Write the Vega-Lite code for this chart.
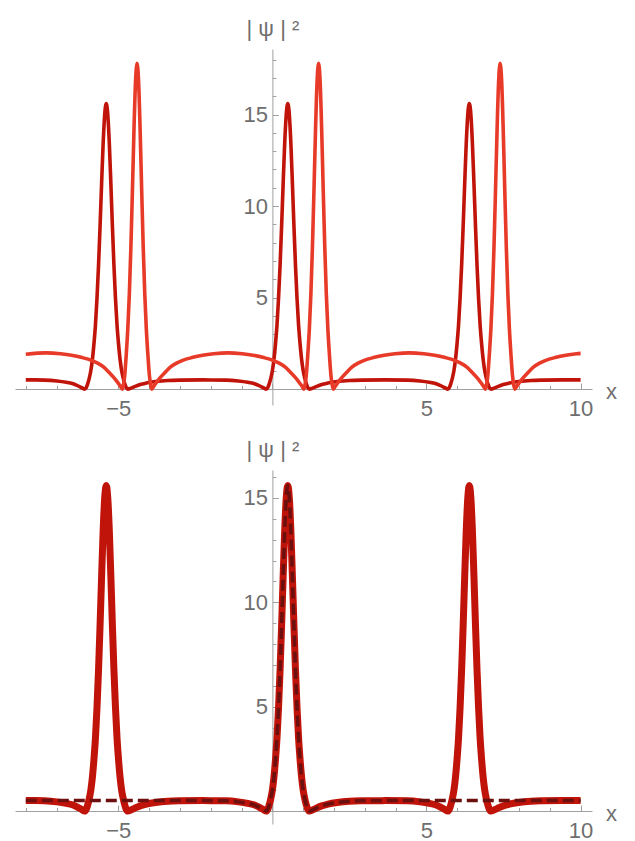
{
  "$schema": "https://vega.github.io/schema/vega-lite/v6.json",
  "background": "white",
  "padding": {"left": 11, "top": 17, "right": 5, "bottom": 5},
  "bounds": "flush",
  "spacing": 65,
  "config": {
    "view": {"stroke": null},
    "axis": {
      "grid": false,
      "domainColor": "#a0a0a0",
      "domainWidth": 1,
      "tickColor": "#a0a0a0",
      "tickWidth": 1,
      "labelColor": "#6e6e6e",
      "labelFont": "Liberation Sans",
      "labelFontSize": 22,
      "labelFlush": false,
      "labelOverlap": false,
      "labelBound": false,
      "titleColor": "#6e6e6e",
      "titleFont": "Liberation Sans",
      "titleFontWeight": "normal"
    }
  },
  "datasets": {
    "dark": [
      {"x": -8, "y": 0.5}, {"x": -7.7, "y": 0.5},
      {"x": -7.39, "y": 0.49}, {"x": -6.99, "y": 0.44}, {"x": -6.69, "y": 0.37}, {"x": -6.49, "y": 0.3}, {"x": -6.34, "y": 0.2}, {"x": -6.24, "y": 0.12}, {"x": -6.17, "y": 0.06}, {"x": -6.09, "y": 0}, {"x": -6.04, "y": 0.08}, {"x": -5.99, "y": 0.3}, {"x": -5.94, "y": 0.6}, {"x": -5.89, "y": 1.0}, {"x": -5.84, "y": 1.6}, {"x": -5.79, "y": 2.45}, {"x": -5.74, "y": 3.5}, {"x": -5.69, "y": 4.95}, {"x": -5.64, "y": 6.75}, {"x": -5.59, "y": 8.9}, {"x": -5.54, "y": 11.24}, {"x": -5.49, "y": 13.43}, {"x": -5.44, "y": 15.0}, {"x": -5.39, "y": 15.6}, {"x": -5.34, "y": 15.0}, {"x": -5.29, "y": 13.43}, {"x": -5.24, "y": 11.24}, {"x": -5.19, "y": 8.9}, {"x": -5.14, "y": 6.75}, {"x": -5.09, "y": 4.95}, {"x": -5.04, "y": 3.5}, {"x": -4.99, "y": 2.45}, {"x": -4.94, "y": 1.6}, {"x": -4.89, "y": 1.0}, {"x": -4.84, "y": 0.6}, {"x": -4.79, "y": 0.3}, {"x": -4.74, "y": 0.08}, {"x": -4.69, "y": 0}, {"x": -4.59, "y": 0.05}, {"x": -4.49, "y": 0.12}, {"x": -4.29, "y": 0.25}, {"x": -4.09, "y": 0.33}, {"x": -3.79, "y": 0.41}, {"x": -3.39, "y": 0.47}, {"x": -2.99, "y": 0.49},
      {"x": -2.25, "y": 0.5},
      {"x": -1.5, "y": 0.49}, {"x": -1.1, "y": 0.44}, {"x": -0.8, "y": 0.37}, {"x": -0.6, "y": 0.3}, {"x": -0.45, "y": 0.2}, {"x": -0.35, "y": 0.12}, {"x": -0.28, "y": 0.06}, {"x": -0.2, "y": 0}, {"x": -0.15, "y": 0.08}, {"x": -0.1, "y": 0.3}, {"x": -0.05, "y": 0.6}, {"x": 0, "y": 1.0}, {"x": 0.05, "y": 1.6}, {"x": 0.1, "y": 2.45}, {"x": 0.15, "y": 3.5}, {"x": 0.2, "y": 4.95}, {"x": 0.25, "y": 6.75}, {"x": 0.3, "y": 8.9}, {"x": 0.35, "y": 11.24}, {"x": 0.4, "y": 13.43}, {"x": 0.45, "y": 15.0}, {"x": 0.5, "y": 15.6}, {"x": 0.55, "y": 15.0}, {"x": 0.6, "y": 13.43}, {"x": 0.65, "y": 11.24}, {"x": 0.7, "y": 8.9}, {"x": 0.75, "y": 6.75}, {"x": 0.8, "y": 4.95}, {"x": 0.85, "y": 3.5}, {"x": 0.9, "y": 2.45}, {"x": 0.95, "y": 1.6}, {"x": 1.0, "y": 1.0}, {"x": 1.05, "y": 0.6}, {"x": 1.1, "y": 0.3}, {"x": 1.15, "y": 0.08}, {"x": 1.2, "y": 0}, {"x": 1.3, "y": 0.05}, {"x": 1.4, "y": 0.12}, {"x": 1.6, "y": 0.25}, {"x": 1.8, "y": 0.33}, {"x": 2.1, "y": 0.41}, {"x": 2.5, "y": 0.47}, {"x": 2.9, "y": 0.49},
      {"x": 3.65, "y": 0.5},
      {"x": 4.39, "y": 0.49}, {"x": 4.79, "y": 0.44}, {"x": 5.09, "y": 0.37}, {"x": 5.29, "y": 0.3}, {"x": 5.44, "y": 0.2}, {"x": 5.54, "y": 0.12}, {"x": 5.61, "y": 0.06}, {"x": 5.69, "y": 0}, {"x": 5.74, "y": 0.08}, {"x": 5.79, "y": 0.3}, {"x": 5.84, "y": 0.6}, {"x": 5.89, "y": 1.0}, {"x": 5.94, "y": 1.6}, {"x": 5.99, "y": 2.45}, {"x": 6.04, "y": 3.5}, {"x": 6.09, "y": 4.95}, {"x": 6.14, "y": 6.75}, {"x": 6.19, "y": 8.9}, {"x": 6.24, "y": 11.24}, {"x": 6.29, "y": 13.43}, {"x": 6.34, "y": 15.0}, {"x": 6.39, "y": 15.6}, {"x": 6.44, "y": 15.0}, {"x": 6.49, "y": 13.43}, {"x": 6.54, "y": 11.24}, {"x": 6.59, "y": 8.9}, {"x": 6.64, "y": 6.75}, {"x": 6.69, "y": 4.95}, {"x": 6.74, "y": 3.5}, {"x": 6.79, "y": 2.45}, {"x": 6.84, "y": 1.6}, {"x": 6.89, "y": 1.0}, {"x": 6.94, "y": 0.6}, {"x": 6.99, "y": 0.3}, {"x": 7.04, "y": 0.08}, {"x": 7.09, "y": 0}, {"x": 7.19, "y": 0.05}, {"x": 7.29, "y": 0.12}, {"x": 7.49, "y": 0.25}, {"x": 7.69, "y": 0.33}, {"x": 7.99, "y": 0.41}, {"x": 8.39, "y": 0.47}, {"x": 8.79, "y": 0.49},
      {"x": 9.4, "y": 0.5}, {"x": 10, "y": 0.5}
    ],
    "light": [
      {"x": -8.0, "y": 1.9}, {"x": -7.335, "y": 1.98}, {"x": -6.87, "y": 1.93}, {"x": -6.52, "y": 1.85}, {"x": -6.17, "y": 1.72}, {"x": -5.87, "y": 1.57}, {"x": -5.67, "y": 1.42}, {"x": -5.47, "y": 1.2}, {"x": -5.32, "y": 0.95}, {"x": -5.17, "y": 0.68}, {"x": -5.07, "y": 0.48}, {"x": -4.97, "y": 0.25}, {"x": -4.92, "y": 0.13}, {"x": -4.87, "y": 0},
      {"x": -4.84, "y": 0.15}, {"x": -4.79, "y": 0.75}, {"x": -4.74, "y": 1.9}, {"x": -4.69, "y": 3.3}, {"x": -4.64, "y": 5.2}, {"x": -4.59, "y": 7.76}, {"x": -4.54, "y": 10.87}, {"x": -4.49, "y": 14.15}, {"x": -4.44, "y": 16.78}, {"x": -4.39, "y": 17.8}, {"x": -4.34, "y": 16.78}, {"x": -4.29, "y": 14.15}, {"x": -4.24, "y": 10.87}, {"x": -4.19, "y": 7.76}, {"x": -4.14, "y": 5.2}, {"x": -4.09, "y": 3.3}, {"x": -4.04, "y": 1.9}, {"x": -3.99, "y": 0.75}, {"x": -3.94, "y": 0.15}, {"x": -3.91, "y": 0},
      {"x": -3.86, "y": 0.13}, {"x": -3.81, "y": 0.25}, {"x": -3.71, "y": 0.48}, {"x": -3.61, "y": 0.68}, {"x": -3.46, "y": 0.95}, {"x": -3.31, "y": 1.2}, {"x": -3.11, "y": 1.42}, {"x": -2.91, "y": 1.57}, {"x": -2.61, "y": 1.72}, {"x": -2.26, "y": 1.85}, {"x": -1.91, "y": 1.93}, {"x": -1.445, "y": 1.98}, {"x": -0.98, "y": 1.93}, {"x": -0.63, "y": 1.85}, {"x": -0.28, "y": 1.72}, {"x": 0.02, "y": 1.57}, {"x": 0.22, "y": 1.42}, {"x": 0.42, "y": 1.2}, {"x": 0.57, "y": 0.95}, {"x": 0.72, "y": 0.68}, {"x": 0.82, "y": 0.48}, {"x": 0.92, "y": 0.25}, {"x": 0.97, "y": 0.13}, {"x": 1.02, "y": 0},
      {"x": 1.05, "y": 0.15}, {"x": 1.1, "y": 0.75}, {"x": 1.15, "y": 1.9}, {"x": 1.2, "y": 3.3}, {"x": 1.25, "y": 5.2}, {"x": 1.3, "y": 7.76}, {"x": 1.35, "y": 10.87}, {"x": 1.4, "y": 14.15}, {"x": 1.45, "y": 16.78}, {"x": 1.5, "y": 17.8}, {"x": 1.55, "y": 16.78}, {"x": 1.6, "y": 14.15}, {"x": 1.65, "y": 10.87}, {"x": 1.7, "y": 7.76}, {"x": 1.75, "y": 5.2}, {"x": 1.8, "y": 3.3}, {"x": 1.85, "y": 1.9}, {"x": 1.9, "y": 0.75}, {"x": 1.95, "y": 0.15}, {"x": 1.98, "y": 0},
      {"x": 2.03, "y": 0.13}, {"x": 2.08, "y": 0.25}, {"x": 2.18, "y": 0.48}, {"x": 2.28, "y": 0.68}, {"x": 2.43, "y": 0.95}, {"x": 2.58, "y": 1.2}, {"x": 2.78, "y": 1.42}, {"x": 2.98, "y": 1.57}, {"x": 3.28, "y": 1.72}, {"x": 3.63, "y": 1.85}, {"x": 3.98, "y": 1.93}, {"x": 4.445, "y": 1.98}, {"x": 4.91, "y": 1.93}, {"x": 5.26, "y": 1.85}, {"x": 5.61, "y": 1.72}, {"x": 5.91, "y": 1.57}, {"x": 6.11, "y": 1.42}, {"x": 6.31, "y": 1.2}, {"x": 6.46, "y": 0.95}, {"x": 6.61, "y": 0.68}, {"x": 6.71, "y": 0.48}, {"x": 6.81, "y": 0.25}, {"x": 6.86, "y": 0.13}, {"x": 6.91, "y": 0},
      {"x": 6.94, "y": 0.15}, {"x": 6.99, "y": 0.75}, {"x": 7.04, "y": 1.9}, {"x": 7.09, "y": 3.3}, {"x": 7.14, "y": 5.2}, {"x": 7.19, "y": 7.76}, {"x": 7.24, "y": 10.87}, {"x": 7.29, "y": 14.15}, {"x": 7.34, "y": 16.78}, {"x": 7.39, "y": 17.8}, {"x": 7.44, "y": 16.78}, {"x": 7.49, "y": 14.15}, {"x": 7.54, "y": 10.87}, {"x": 7.59, "y": 7.76}, {"x": 7.64, "y": 5.2}, {"x": 7.69, "y": 3.3}, {"x": 7.74, "y": 1.9}, {"x": 7.79, "y": 0.75}, {"x": 7.84, "y": 0.15}, {"x": 7.87, "y": 0},
      {"x": 7.92, "y": 0.13}, {"x": 7.97, "y": 0.25}, {"x": 8.07, "y": 0.48}, {"x": 8.17, "y": 0.68}, {"x": 8.32, "y": 0.95}, {"x": 8.47, "y": 1.2}, {"x": 8.67, "y": 1.42}, {"x": 8.87, "y": 1.57}, {"x": 9.17, "y": 1.72}, {"x": 9.52, "y": 1.85}, {"x": 9.87, "y": 1.93}, {"x": 10.0, "y": 1.95}
    ],
    "dashed": [
      {"x": -8, "y": 0.5}, {"x": -3.0, "y": 0.5}, {"x": -2.25, "y": 0.5},
      {"x": -1.5, "y": 0.49}, {"x": -1.1, "y": 0.44}, {"x": -0.8, "y": 0.37}, {"x": -0.6, "y": 0.3}, {"x": -0.45, "y": 0.2}, {"x": -0.35, "y": 0.12}, {"x": -0.28, "y": 0.06}, {"x": -0.2, "y": 0}, {"x": -0.15, "y": 0.08}, {"x": -0.1, "y": 0.3}, {"x": -0.05, "y": 0.6}, {"x": 0, "y": 1.0}, {"x": 0.05, "y": 1.6}, {"x": 0.1, "y": 2.45}, {"x": 0.15, "y": 3.5}, {"x": 0.2, "y": 4.95}, {"x": 0.25, "y": 6.75}, {"x": 0.3, "y": 8.9}, {"x": 0.35, "y": 11.24}, {"x": 0.4, "y": 13.43}, {"x": 0.45, "y": 15.0}, {"x": 0.5, "y": 15.6}, {"x": 0.55, "y": 15.0}, {"x": 0.6, "y": 13.43}, {"x": 0.65, "y": 11.24}, {"x": 0.7, "y": 8.9}, {"x": 0.75, "y": 6.75}, {"x": 0.8, "y": 4.95}, {"x": 0.85, "y": 3.5}, {"x": 0.9, "y": 2.45}, {"x": 0.95, "y": 1.6}, {"x": 1.0, "y": 1.0}, {"x": 1.05, "y": 0.6}, {"x": 1.1, "y": 0.3}, {"x": 1.15, "y": 0.08}, {"x": 1.2, "y": 0}, {"x": 1.3, "y": 0.05}, {"x": 1.4, "y": 0.12}, {"x": 1.6, "y": 0.25}, {"x": 1.8, "y": 0.33}, {"x": 2.1, "y": 0.41}, {"x": 2.5, "y": 0.47}, {"x": 2.9, "y": 0.49},
      {"x": 3.65, "y": 0.5}, {"x": 10, "y": 0.5}
    ]
  },
  "vconcat": [
    {
      "width": 577,
      "height": 356,
      "encoding": {
        "x": {
          "field": "x", "type": "quantitative",
          "scale": {"domain": [-8.35, 10.37], "nice": false, "zero": false},
          "axis": {
            "orient": "bottom", "offset": -16,
            "values": [-8,-7,-6,-5,-4,-3,-2,-1,0,1,2,3,4,5,6,7,8,9,10],
            "labelExpr": "datum.value % 5 === 0 && datum.value !== 0 ? datum.label : ''",
            "tickSize": {"condition": {"test": "datum.value % 5 === 0", "value": -6}, "value": -3.5},
            "labelPadding": 15,
            "title": "x", "titleFontSize": 22, "titleX": 596, "titleY": 9,
            "titleAlign": "center", "titleBaseline": "alphabetic"
          }
        },
        "y": {
          "field": "y", "type": "quantitative",
          "scale": {"domain": [-0.87, 18.58], "nice": false, "zero": false},
          "axis": {
            "orient": "left", "offset": -257.4,
            "values": [1,2,3,4,5,6,7,8,9,10,11,12,13,14,15,16,17,18],
            "labelExpr": "datum.value % 5 === 0 ? datum.label : ''",
            "tickSize": {"condition": {"test": "datum.value % 5 === 0", "value": -6}, "value": -3.5},
            "labelPadding": 11,
            "title": "| ψ | ²", "titleFontSize": 22, "titleAngle": 0, "titleX": 0, "titleY": -14,
            "titleAlign": "center", "titleBaseline": "alphabetic"
          }
        }
      },
      "layer": [
        {"data": {"name": "dark"}, "mark": {"type": "line", "color": "#c0140a", "strokeWidth": 3.6, "interpolate": "monotone"}},
        {"data": {"name": "light"}, "mark": {"type": "line", "color": "#e83a28", "strokeWidth": 3.6, "interpolate": "monotone"}}
      ]
    },
    {
      "width": 577,
      "height": 354,
      "encoding": {
        "x": {
          "field": "x", "type": "quantitative",
          "scale": {"domain": [-8.35, 10.37], "nice": false, "zero": false},
          "axis": {
            "orient": "bottom", "offset": -13,
            "values": [-8,-7,-6,-5,-4,-3,-2,-1,0,1,2,3,4,5,6,7,8,9,10],
            "labelExpr": "datum.value % 5 === 0 && datum.value !== 0 ? datum.label : ''",
            "tickSize": {"condition": {"test": "datum.value % 5 === 0", "value": -6}, "value": -3.5},
            "labelPadding": 15,
            "title": "x", "titleFontSize": 22, "titleX": 596, "titleY": 9,
            "titleAlign": "center", "titleBaseline": "alphabetic"
          }
        },
        "y": {
          "field": "y", "type": "quantitative",
          "scale": {"domain": [-0.62, 16.34], "nice": false, "zero": false},
          "axis": {
            "orient": "left", "offset": -257.4,
            "values": [1,2,3,4,5,6,7,8,9,10,11,12,13,14,15,16],
            "labelExpr": "datum.value % 5 === 0 ? datum.label : ''",
            "tickSize": {"condition": {"test": "datum.value % 5 === 0", "value": -6}, "value": -3.5},
            "labelPadding": 11,
            "title": "| ψ | ²", "titleFontSize": 22, "titleAngle": 0, "titleX": 0, "titleY": -14,
            "titleAlign": "center", "titleBaseline": "alphabetic"
          }
        }
      },
      "layer": [
        {"data": {"name": "dark"}, "mark": {"type": "line", "color": "#c0140a", "strokeWidth": 7, "interpolate": "monotone"}},
        {"data": {"name": "dashed"}, "mark": {"type": "line", "color": "#6b0f0f", "strokeWidth": 3.5, "strokeDash": [11, 5], "interpolate": "monotone"}}
      ]
    }
  ]
}
